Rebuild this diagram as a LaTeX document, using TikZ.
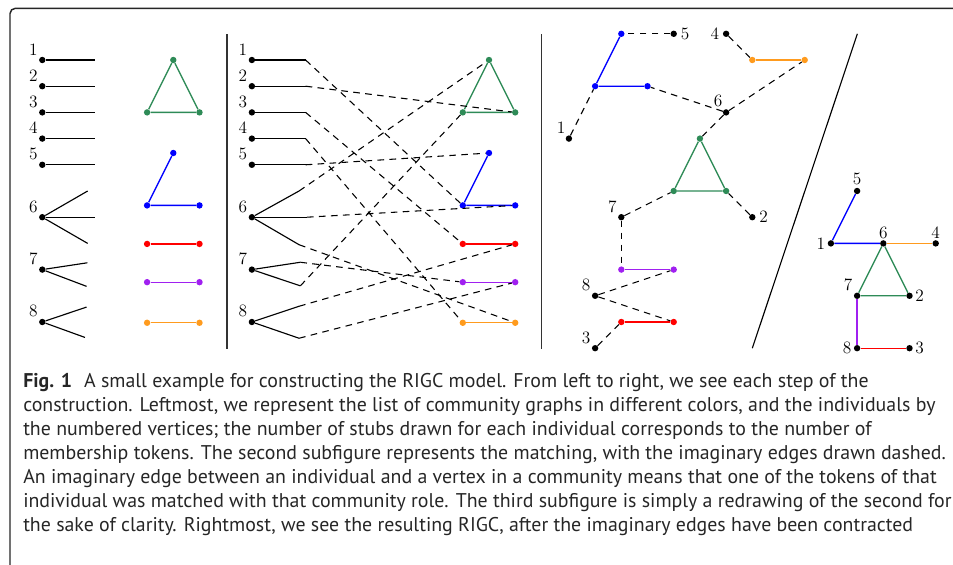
\documentclass[tikz,border=0pt]{standalone}
\usepackage{fontspec}
\newfontfamily\capfont{PT Sans}

\definecolor{rigcGreen}{RGB}{46,139,87}
\definecolor{rigcBlue}{RGB}{0,0,255}
\definecolor{rigcRed}{RGB}{255,0,0}
\definecolor{rigcPurple}{RGB}{160,32,240}
\definecolor{rigcOrange}{RGB}{255,155,30}

\tikzstyle{indNode} = [circle, fill=black, inner sep=0pt, minimum size=4.8pt]
\tikzstyle{commNode} = [circle, inner sep=0pt, minimum size=4.8pt]
\tikzstyle{numLabel} = [font=\fontsize{13}{15}\selectfont, inner sep=1.5pt]
\tikzstyle{stubEdge} = [line width=0.85pt]
\tikzstyle{imagEdge} = [line width=0.8pt, dash pattern=on 5pt off 4pt]
\tikzstyle{commEdge} = [line width=1pt]
\tikzstyle{sepLine} = [line width=0.8pt, black!80]
\tikzstyle{capText} = [anchor=base west, inner sep=0pt, text=black!85, font=\capfont\fontsize{14.9}{17}\selectfont]

\begin{document}
\begin{tikzpicture}[x=19.65pt, y=19.65pt]
    \useasboundingbox (-1.6145,2.29) rectangle (34.76,-19.275);
    \draw [line width=1.1pt, black!85, rounded corners=4pt] (34.8,1.973) -- (-1.233,1.973) -- (-1.233,-19.3);

    % individuals and their stubs
    \node (ind1_a)[indNode, label={[numLabel]above left:1}] at (0,0) {};
    \node (ind2_a)[indNode, label={[numLabel]above left:2}] at (0,-1) {};
    \node (ind3_a)[indNode, label={[numLabel]above left:3}] at (0,-2) {};
    \node (ind4_a)[indNode, label={[numLabel]above left:4}] at (0,-3) {};
    \node (ind5_a)[indNode, label={[numLabel]above left:5}] at (0,-4) {};
    \node (ind6_a)[indNode, label={[numLabel]above left:6}] at (0,-6) {};
    \node (ind7_a)[indNode, label={[numLabel]above left:7}] at (0,-8) {};
    \node (ind8_a)[indNode, label={[numLabel]above left:8}] at (0,-10) {};

    \draw [stubEdge] (ind1_a) -- ++(2,0);
    \draw [stubEdge] (ind2_a) -- ++(2,0);
    \draw [stubEdge] (ind3_a) -- ++(2,0);
    \draw [stubEdge] (ind4_a) -- ++(2,0);
    \draw [stubEdge] (ind5_a) -- ++(2,0);
    \draw [stubEdge] (ind6_a) -- ++(30:2);
    \draw [stubEdge] (ind6_a) -- ++(2,0);
    \draw [stubEdge] (ind6_a) -- ++(-30:2);
    \draw [stubEdge] (ind7_a) -- ++(1.72,0.26);
    \draw [stubEdge] (ind7_a) -- ++(1.69,-0.64);
    \draw [stubEdge] (ind8_a) -- ++(1.69,0.57);
    \draw [stubEdge] (ind8_a) -- ++(1.63,-0.59);

    % community graphs
    \node (green_top_a)[commNode, fill=rigcGreen] at (5,0) {};
    \node (green_left_a)[commNode, fill=rigcGreen] at (4,-2) {};
    \node (green_right_a)[commNode, fill=rigcGreen] at (6,-2) {};
    \node (blue_top_a)[commNode, fill=rigcBlue] at (5,-3.55) {};
    \node (blue_left_a)[commNode, fill=rigcBlue] at (4,-5.55) {};
    \node (blue_right_a)[commNode, fill=rigcBlue] at (6,-5.55) {};
    \node (red_left_a)[commNode, fill=rigcRed] at (4,-7.02) {};
    \node (red_right_a)[commNode, fill=rigcRed] at (6,-7.02) {};
    \node (purple_left_a)[commNode, fill=rigcPurple] at (4,-8.48) {};
    \node (purple_right_a)[commNode, fill=rigcPurple] at (6,-8.48) {};
    \node (orange_left_a)[commNode, fill=rigcOrange] at (4,-10.03) {};
    \node (orange_right_a)[commNode, fill=rigcOrange] at (6,-10.03) {};

    \draw [commEdge, rigcGreen] (green_top_a) -- (green_left_a) -- (green_right_a) -- (green_top_a);
    \draw [commEdge, rigcBlue] (blue_top_a) -- (blue_left_a) -- (blue_right_a);
    \draw [commEdge, rigcRed] (red_left_a) -- (red_right_a);
    \draw [commEdge, rigcPurple] (purple_left_a) -- (purple_right_a);
    \draw [commEdge, rigcOrange] (orange_left_a) -- (orange_right_a);

    \draw [sepLine] (7.05,0.99) -- (7.05,-11.03);

    % the matching
    \node (ind1_b)[indNode, label={[numLabel]above left:1}] at (8,0) {};
    \node (ind2_b)[indNode, label={[numLabel]above left:2}] at (8,-1) {};
    \node (ind3_b)[indNode, label={[numLabel]above left:3}] at (8,-2) {};
    \node (ind4_b)[indNode, label={[numLabel]above left:4}] at (8,-3) {};
    \node (ind5_b)[indNode, label={[numLabel]above left:5}] at (8,-4) {};
    \node (ind6_b)[indNode, label={[numLabel]above left:6}] at (8,-6) {};
    \node (ind7_b)[indNode, label={[numLabel]above left:7}] at (8,-8) {};
    \node (ind8_b)[indNode, label={[numLabel]above left:8}] at (8,-10) {};

    \node (green_top_b)[commNode, fill=rigcGreen] at (17.05,0) {};
    \node (green_left_b)[commNode, fill=rigcGreen] at (16.05,-2) {};
    \node (green_right_b)[commNode, fill=rigcGreen] at (18.05,-2) {};
    \node (blue_top_b)[commNode, fill=rigcBlue] at (17.05,-3.55) {};
    \node (blue_left_b)[commNode, fill=rigcBlue] at (16.05,-5.55) {};
    \node (blue_right_b)[commNode, fill=rigcBlue] at (18.05,-5.55) {};
    \node (red_left_b)[commNode, fill=rigcRed] at (16.05,-7.02) {};
    \node (red_right_b)[commNode, fill=rigcRed] at (18.05,-7.02) {};
    \node (purple_left_b)[commNode, fill=rigcPurple] at (16.05,-8.48) {};
    \node (purple_right_b)[commNode, fill=rigcPurple] at (18.05,-8.48) {};
    \node (orange_left_b)[commNode, fill=rigcOrange] at (16.05,-10.03) {};
    \node (orange_right_b)[commNode, fill=rigcOrange] at (18.05,-10.03) {};

    \draw [commEdge, rigcGreen] (green_top_b) -- (green_left_b) -- (green_right_b) -- (green_top_b);
    \draw [commEdge, rigcBlue] (blue_top_b) -- (blue_left_b) -- (blue_right_b);
    \draw [commEdge, rigcRed] (red_left_b) -- (red_right_b);
    \draw [commEdge, rigcPurple] (purple_left_b) -- (purple_right_b);
    \draw [commEdge, rigcOrange] (orange_left_b) -- (orange_right_b);

    \draw [stubEdge] (ind1_b) -- ++(2.05,0) coordinate (tok1_b);
    \draw [stubEdge] (ind2_b) -- ++(2.05,0) coordinate (tok2_b);
    \draw [stubEdge] (ind3_b) -- ++(2.05,0) coordinate (tok3_b);
    \draw [stubEdge] (ind4_b) -- ++(2.05,0) coordinate (tok4_b);
    \draw [stubEdge] (ind5_b) -- ++(2.05,0) coordinate (tok5_b);
    \draw [stubEdge] (ind6_b) -- ++(1.8,1) coordinate (tok6up_b);
    \draw [stubEdge] (ind6_b) -- ++(2.1,0) coordinate (tok6mid_b);
    \draw [stubEdge] (ind6_b) -- ++(1.8,-1.05) coordinate (tok6low_b);
    \draw [stubEdge] (ind7_b) -- ++(1.85,0.28) coordinate (tok7up_b);
    \draw [stubEdge] (ind7_b) -- ++(1.85,-0.62) coordinate (tok7low_b);
    \draw [stubEdge] (ind8_b) -- ++(1.8,0.6) coordinate (tok8up_b);
    \draw [stubEdge] (ind8_b) -- ++(1.8,-0.62) coordinate (tok8low_b);

    \draw [imagEdge] (tok1_b) -- (blue_left_b);
    \draw [imagEdge] (tok2_b) -- (green_right_b);
    \draw [imagEdge] (tok3_b) -- (red_left_b);
    \draw [imagEdge] (tok4_b) -- (orange_left_b);
    \draw [imagEdge] (tok5_b) -- (blue_top_b);
    \draw [imagEdge] (tok6up_b) -- (green_top_b);
    \draw [imagEdge] (tok6mid_b) -- (blue_right_b);
    \draw [imagEdge] (tok6low_b) -- (orange_right_b);
    \draw [imagEdge] (tok7up_b) -- (purple_left_b);
    \draw [imagEdge] (tok7low_b) -- (green_left_b);
    \draw [imagEdge] (tok8up_b) -- (red_right_b);
    \draw [imagEdge] (tok8low_b) -- (purple_right_b);

    \draw [sepLine] (19.06,0.99) -- (19.06,-11.03);

    % redrawing of the matching
    \node (blue_top_c)[commNode, fill=rigcBlue] at (22.1,1) {};
    \node (blue_left_c)[commNode, fill=rigcBlue] at (21.1,-1) {};
    \node (blue_right_c)[commNode, fill=rigcBlue] at (23.1,-1) {};
    \node (orange_left_c)[commNode, fill=rigcOrange] at (27.1,0) {};
    \node (orange_right_c)[commNode, fill=rigcOrange] at (29.1,0) {};
    \node (green_top_c)[commNode, fill=rigcGreen] at (25.1,-3) {};
    \node (green_left_c)[commNode, fill=rigcGreen] at (24.1,-5) {};
    \node (green_right_c)[commNode, fill=rigcGreen] at (26.1,-5) {};
    \node (purple_left_c)[commNode, fill=rigcPurple] at (22.1,-8) {};
    \node (purple_right_c)[commNode, fill=rigcPurple] at (24.1,-8) {};
    \node (red_left_c)[commNode, fill=rigcRed] at (22.1,-10) {};
    \node (red_right_c)[commNode, fill=rigcRed] at (24.1,-10) {};

    \node (ind1_c)[indNode, label={[numLabel]110:1}] at (20.1,-3) {};
    \node (ind2_c)[indNode, label={[numLabel, label distance=1pt]right:2}] at (27.1,-6) {};
    \node (ind3_c)[indNode, label={[numLabel]above left:3}] at (21.1,-11) {};
    \node (ind4_c)[indNode, label={[numLabel, label distance=1pt]left:4}] at (26.1,1) {};
    \node (ind5_c)[indNode, label={[numLabel, label distance=1pt]right:5}] at (24.1,1) {};
    \node (ind6_c)[indNode, label={[numLabel]115:6}] at (26.1,-2) {};
    \node (ind7_c)[indNode, label={[numLabel]above left:7}] at (22.1,-6) {};
    \node (ind8_c)[indNode, label={[numLabel]above left:8}] at (21.1,-9) {};

    \draw [commEdge, rigcBlue] (blue_top_c) -- (blue_left_c) -- (blue_right_c);
    \draw [commEdge, rigcOrange] (orange_left_c) -- (orange_right_c);
    \draw [commEdge, rigcGreen] (green_top_c) -- (green_left_c) -- (green_right_c) -- (green_top_c);
    \draw [commEdge, rigcPurple] (purple_left_c) -- (purple_right_c);
    \draw [commEdge, rigcRed] (red_left_c) -- (red_right_c);

    \draw [imagEdge] (ind5_c) -- (blue_top_c);
    \draw [imagEdge] (ind1_c) -- (blue_left_c);
    \draw [imagEdge] (ind6_c) -- (blue_right_c);
    \draw [imagEdge] (ind4_c) -- (orange_left_c);
    \draw [imagEdge] (ind6_c) -- (orange_right_c);
    \draw [imagEdge] (ind6_c) -- (green_top_c);
    \draw [imagEdge] (ind7_c) -- (green_left_c);
    \draw [imagEdge] (ind2_c) -- (green_right_c);
    \draw [imagEdge] (ind7_c) -- (purple_left_c);
    \draw [imagEdge] (ind8_c) -- (purple_right_c);
    \draw [imagEdge] (ind8_c) -- (red_right_c);
    \draw [imagEdge] (ind3_c) -- (red_left_c);

    \draw [stubEdge] (27.1,-11) -- (31.11,1);

    % the resulting RIGC
    \node (ind1_d)[indNode, label={[numLabel]left:1}] at (30.1,-7) {};
    \node (ind2_d)[indNode, label={[numLabel]right:2}] at (33.1,-9) {};
    \node (ind3_d)[indNode, label={[numLabel]right:3}] at (33.1,-11) {};
    \node (ind4_d)[indNode, label={[numLabel, inner sep=0.5pt]above:4}] at (34.1,-7) {};
    \node (ind5_d)[indNode, label={[numLabel]above:5}] at (31.1,-5) {};
    \node (ind6_d)[indNode, label={[numLabel, inner sep=0.5pt]above:6}] at (32.1,-7) {};
    \node (ind7_d)[indNode, label={[numLabel]above left:7}] at (31.1,-9) {};
    \node (ind8_d)[indNode, label={[numLabel]left:8}] at (31.1,-11) {};

    \draw [commEdge, rigcBlue] (ind5_d) -- (ind1_d) -- (ind6_d);
    \draw [commEdge, rigcOrange] (ind6_d) -- (ind4_d);
    \draw [commEdge, rigcGreen] (ind6_d) -- (ind7_d) -- (ind2_d) -- (ind6_d);
    \draw [commEdge, rigcPurple] (ind7_d) -- (ind8_d);
    \draw [commEdge, rigcRed] (ind8_d) -- (ind3_d);

    % caption
    \node (cap_line1)[capText] at (-0.737,-12.519) {\textbf{Fig. 1}\hspace{0.6em}A small example for constructing the RIGC model. From left to right, we see each step of the};
    \node (cap_line2)[capText] at (-0.737,-13.435) {construction. Leftmost, we represent the list of community graphs in different colors, and the individuals by};
    \node (cap_line3)[capText] at (-0.737,-14.351) {the numbered vertices; the number of stubs drawn for each individual corresponds to the number of};
    \node (cap_line4)[capText] at (-0.737,-15.267) {membership tokens. The second subfigure represents the matching, with the imaginary edges drawn dashed.};
    \node (cap_line5)[capText] at (-0.737,-16.183) {An imaginary edge between an individual and a vertex in a community means that one of the tokens of that};
    \node (cap_line6)[capText] at (-0.737,-17.099) {individual was matched with that community role. The third subfigure is simply a redrawing of the second for};
    \node (cap_line7)[capText] at (-0.737,-18.015) {the sake of clarity. Rightmost, we see the resulting RIGC, after the imaginary edges have been contracted};
\end{tikzpicture}
\end{document}
